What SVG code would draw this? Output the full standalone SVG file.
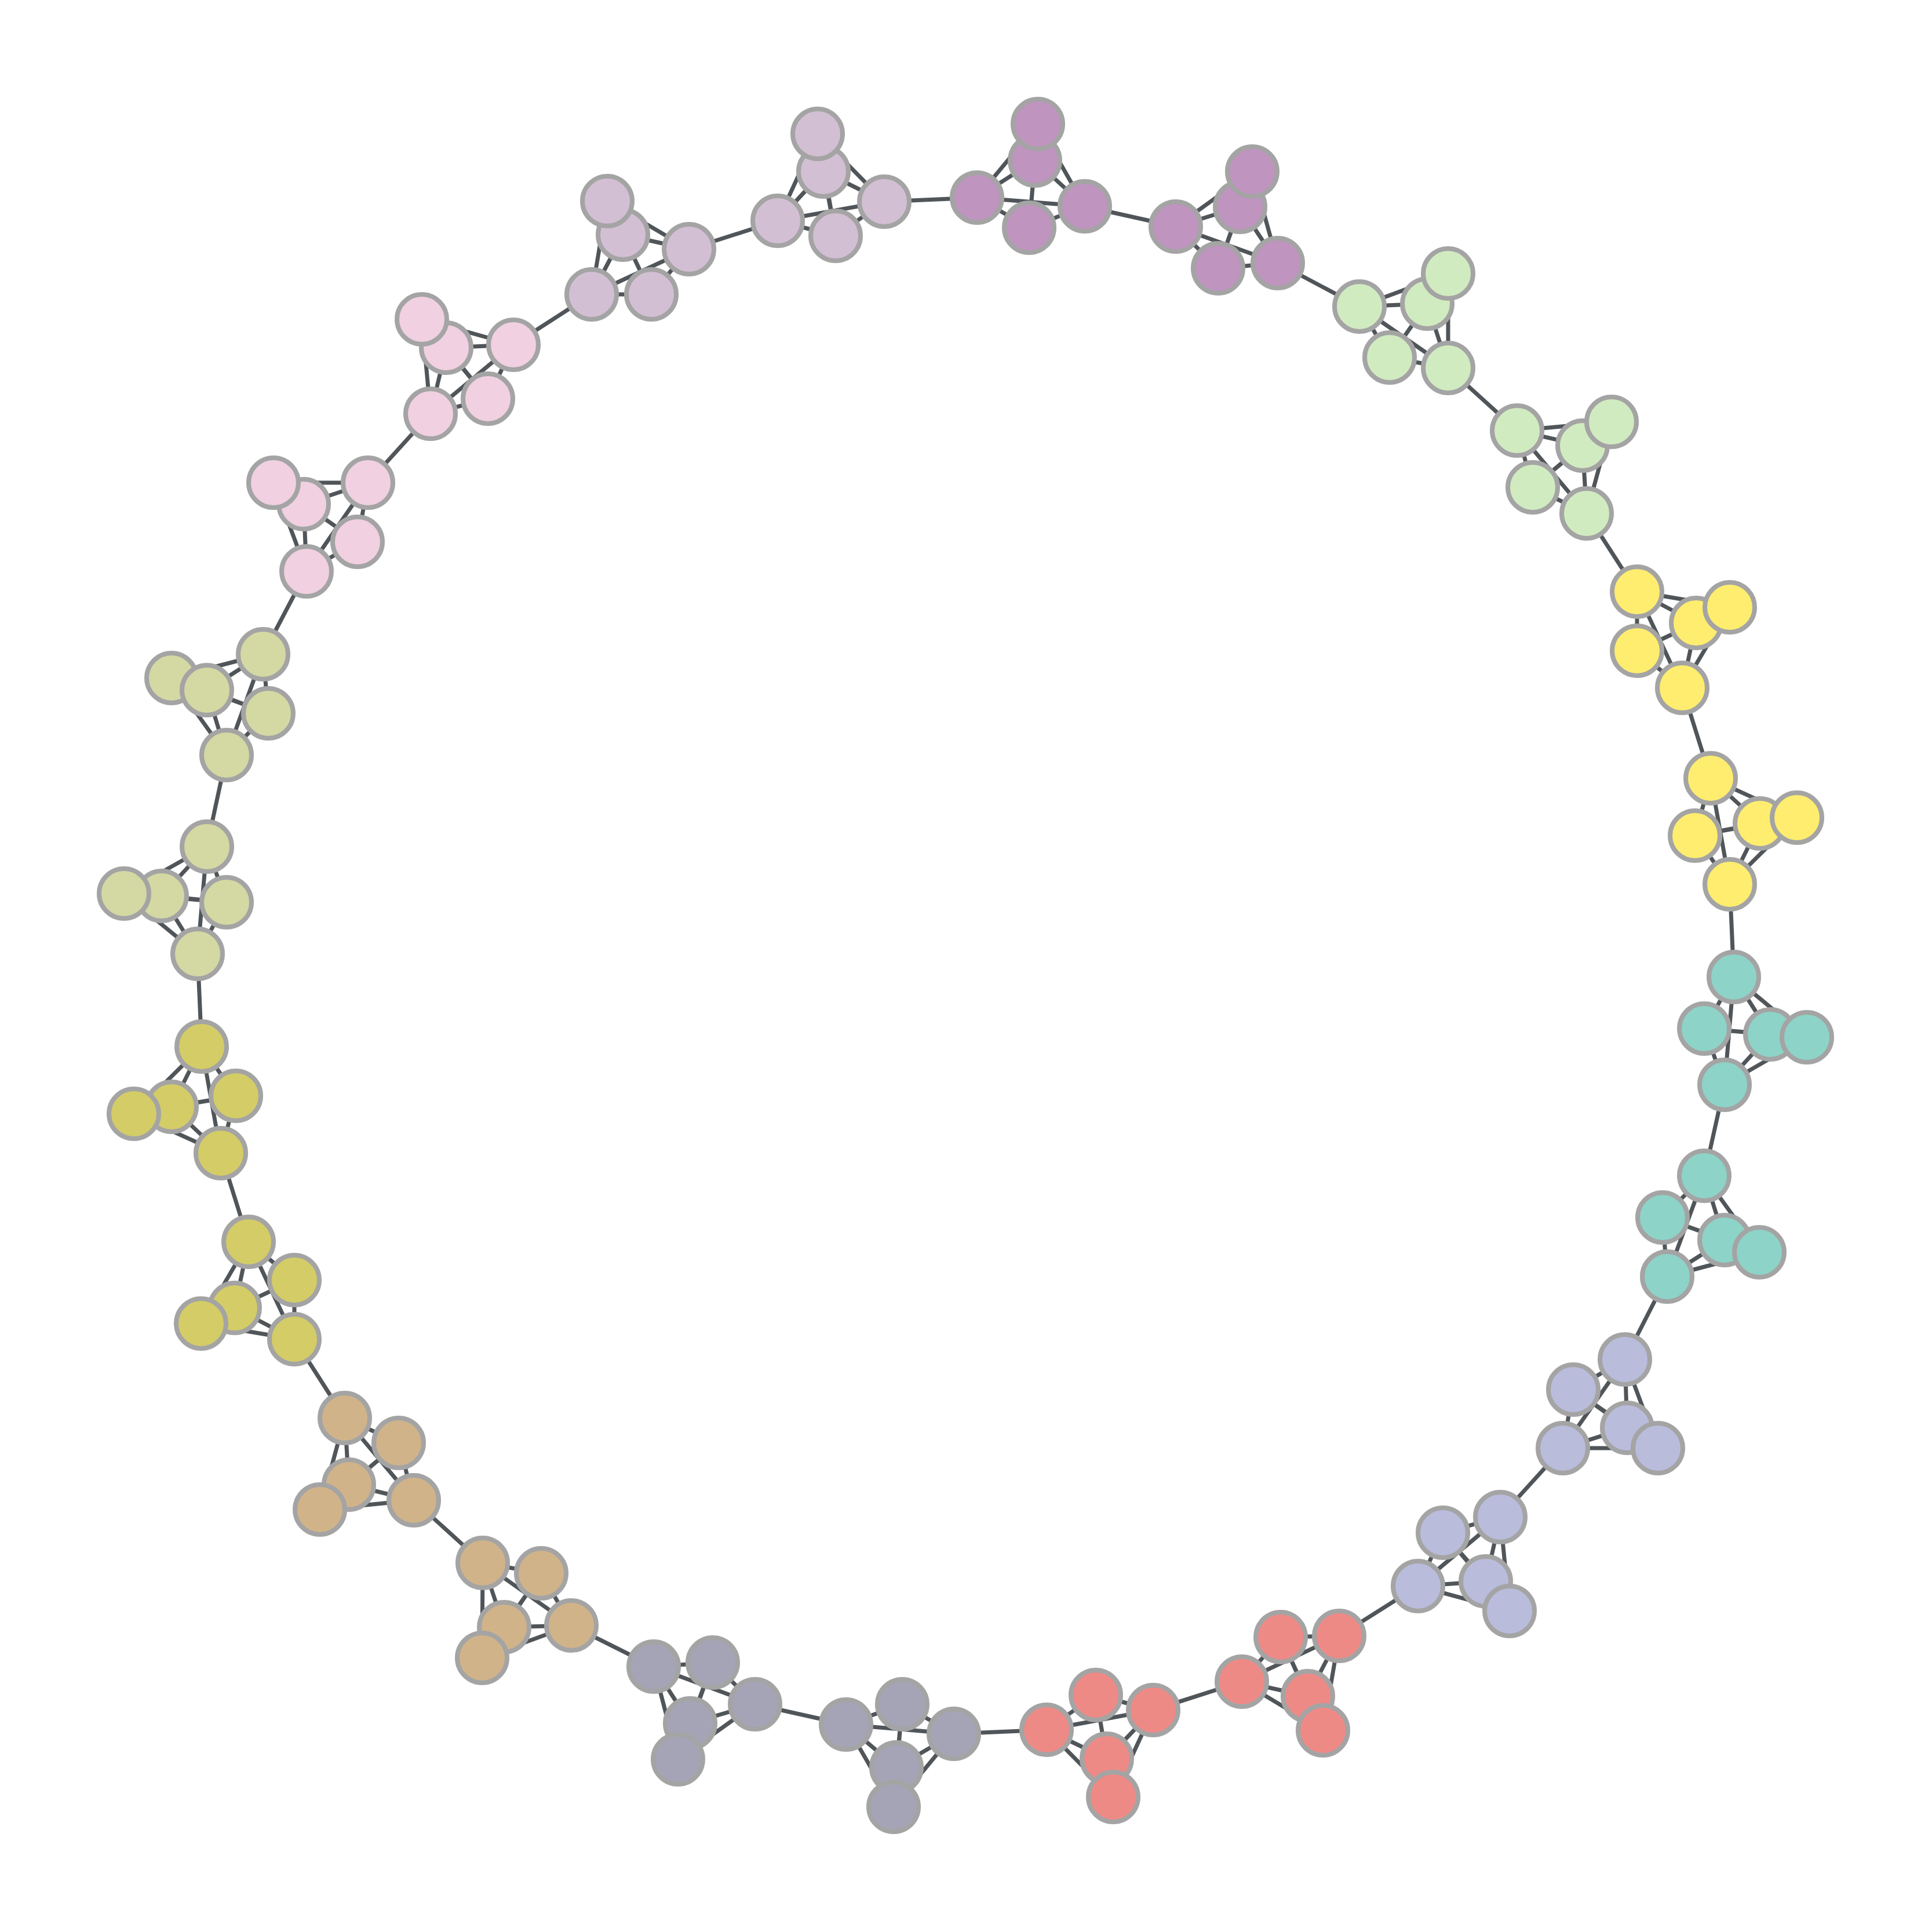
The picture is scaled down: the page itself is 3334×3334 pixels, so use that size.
<svg xmlns="http://www.w3.org/2000/svg" width="3334" height="3334" viewBox="0 0 3334 3334">
<style>
.e{stroke:#505559;stroke-width:7;fill:none;stroke-linecap:butt}
circle{stroke:#a4a4a4;stroke-width:8}
.pu{fill:#bf94bf}.li{fill:#d3bfd3}.pk{fill:#f0d0e1}.lo{fill:#d4d8a3}.oy{fill:#d4cc66}.tn{fill:#d1b38a}.gp{fill:#a5a4b7}.sa{fill:#ee8a86}.lv{fill:#b9bcdb}.te{fill:#8dd3c7}.ye{fill:#ffed6f}.lg{fill:#d1ebc1}
</style>
<rect width="3334" height="3334" fill="#ffffff"/>
<g id="connectors">
<path class="e" d="M1791 214L1786 277M1791 214L1686 341M1791 214L1776 393M1791 214L1872 356M1786 277L1686 341M1786 277L1776 393M1786 277L1872 356M1686 341L1776 393M1686 341L1872 356M1776 393L1872 356"/>
<path class="e" d="M2029 391L2140 357M2029 391L2161 296M2029 391L2102 463M2029 391L2205 454M2140 357L2161 296M2140 357L2102 463M2140 357L2205 454M2161 296L2102 463M2161 296L2205 454M2102 463L2205 454"/>
<path class="e" d="M2346 529L2463 524M2346 529L2499 472M2346 529L2398 617M2346 529L2499 635M2463 524L2499 472M2463 524L2398 617M2463 524L2499 635M2499 472L2398 617M2499 472L2499 635M2398 617L2499 635"/>
<path class="e" d="M2618 743L2731 769M2618 743L2781 728M2618 743L2645 841M2618 743L2738 886M2731 769L2781 728M2731 769L2645 841M2731 769L2738 886M2781 728L2645 841M2781 728L2738 886M2645 841L2738 886"/>
<path class="e" d="M2825 1021L2927 1075M2825 1021L2985 1048M2825 1021L2825 1123M2825 1021L2903 1187M2927 1075L2985 1048M2927 1075L2825 1123M2927 1075L2903 1187M2985 1048L2825 1123M2985 1048L2903 1187M2825 1123L2903 1187"/>
<path class="e" d="M2952 1343L2925 1442M2952 1343L3037 1421M2952 1343L3101 1411M2952 1343L2985 1526M2925 1442L3037 1421M2925 1442L3101 1411M2925 1442L2985 1526M3037 1421L3101 1411M3037 1421L2985 1526M3101 1411L2985 1526"/>
<path class="e" d="M2992 1686L2941 1775M2992 1686L3055 1785M2992 1686L3118 1790M2992 1686L2976 1872M2941 1775L3055 1785M2941 1775L3118 1790M2941 1775L2976 1872M3055 1785L3118 1790M3055 1785L2976 1872M3118 1790L2976 1872"/>
<path class="e" d="M2941 2029L2869 2101M2941 2029L2976 2140M2941 2029L3036 2161M2941 2029L2877 2203M2869 2101L2976 2140M2869 2101L3036 2161M2869 2101L2877 2203M2976 2140L3036 2161M2976 2140L2877 2203M3036 2161L2877 2203"/>
<path class="e" d="M2804 2346L2715 2398M2804 2346L2808 2464M2804 2346L2861 2499M2804 2346L2697 2499M2715 2398L2808 2464M2715 2398L2861 2499M2715 2398L2697 2499M2808 2464L2861 2499M2808 2464L2697 2499M2861 2499L2697 2499"/>
<path class="e" d="M2589 2618L2490 2645M2589 2618L2564 2729M2589 2618L2605 2780M2589 2618L2447 2737M2490 2645L2564 2729M2490 2645L2605 2780M2490 2645L2447 2737M2564 2729L2605 2780M2564 2729L2447 2737M2605 2780L2447 2737"/>
<path class="e" d="M2311 2823L2210 2825M2311 2823L2257 2927M2311 2823L2283 2986M2311 2823L2143 2902M2210 2825L2257 2927M2210 2825L2283 2986M2210 2825L2143 2902M2257 2927L2283 2986M2257 2927L2143 2902M2283 2986L2143 2902"/>
<path class="e" d="M1990 2951L1891 2925M1990 2951L1910 3035M1990 2951L1921 3101M1990 2951L1806 2985M1891 2925L1910 3035M1891 2925L1921 3101M1891 2925L1806 2985M1910 3035L1921 3101M1910 3035L1806 2985M1921 3101L1806 2985"/>
<path class="e" d="M1646 2992L1557 2941M1646 2992L1547 3050M1646 2992L1542 3118M1646 2992L1460 2976M1557 2941L1547 3050M1557 2941L1542 3118M1557 2941L1460 2976M1547 3050L1542 3118M1547 3050L1460 2976M1542 3118L1460 2976"/>
<path class="e" d="M1303 2941L1230 2869M1303 2941L1191 2974M1303 2941L1170 3036M1303 2941L1128 2876M1230 2869L1191 2974M1230 2869L1170 3036M1230 2869L1128 2876M1191 2974L1170 3036M1191 2974L1128 2876M1170 3036L1128 2876"/>
<path class="e" d="M986 2805L934 2715M986 2805L870 2808M986 2805L832 2861M986 2805L833 2697M934 2715L870 2808M934 2715L832 2861M934 2715L833 2697M870 2808L832 2861M870 2808L833 2697M832 2861L833 2697"/>
<path class="e" d="M714 2589L688 2490M714 2589L602 2562M714 2589L552 2605M714 2589L595 2447M688 2490L602 2562M688 2490L552 2605M688 2490L595 2447M602 2562L552 2605M602 2562L595 2447M552 2605L595 2447"/>
<path class="e" d="M508 2311L508 2209M508 2311L405 2257M508 2311L347 2284M508 2311L429 2143M508 2209L405 2257M508 2209L347 2284M508 2209L429 2143M405 2257L347 2284M405 2257L429 2143M347 2284L429 2143"/>
<path class="e" d="M381 1990L407 1891M381 1990L296 1910M381 1990L231 1922M381 1990L348 1806M407 1891L296 1910M407 1891L231 1922M407 1891L348 1806M296 1910L231 1922M296 1910L348 1806M231 1922L348 1806"/>
<path class="e" d="M341 1646L391 1557M341 1646L279 1546M341 1646L214 1542M341 1646L357 1461M391 1557L279 1546M391 1557L214 1542M391 1557L357 1461M279 1546L214 1542M279 1546L357 1461M214 1542L357 1461"/>
<path class="e" d="M391 1303L463 1231M391 1303L357 1191M391 1303L296 1170M391 1303L454 1129M463 1231L357 1191M463 1231L296 1170M463 1231L454 1129M357 1191L296 1170M357 1191L454 1129M296 1170L454 1129"/>
<path class="e" d="M529 986L617 935M529 986L524 870M529 986L472 833M529 986L635 833M617 935L524 870M617 935L472 833M617 935L635 833M524 870L472 833M524 870L635 833M472 833L635 833"/>
<path class="e" d="M743 714L842 688M743 714L770 600M743 714L728 551M743 714L886 595M842 688L770 600M842 688L728 551M842 688L886 595M770 600L728 551M770 600L886 595M728 551L886 595"/>
<path class="e" d="M1021 508L1124 508M1021 508L1075 405M1021 508L1048 347M1021 508L1189 430M1124 508L1075 405M1124 508L1048 347M1124 508L1189 430M1075 405L1048 347M1075 405L1189 430M1048 347L1189 430"/>
<path class="e" d="M1342 381L1442 407M1342 381L1421 296M1342 381L1411 231M1342 381L1526 348M1442 407L1421 296M1442 407L1411 231M1442 407L1526 348M1421 296L1411 231M1421 296L1526 348M1411 231L1526 348"/>
<path class="e" d="M1526 348L1686 341M1872 356L2029 391M2205 454L2346 529M2499 635L2618 743M2738 886L2825 1021M2903 1187L2952 1343M2985 1526L2992 1686M2976 1872L2941 2029M2877 2203L2804 2346M2697 2499L2589 2618M2447 2737L2311 2823M2143 2902L1990 2951M1806 2985L1646 2992M1460 2976L1303 2941M1128 2876L986 2805M833 2697L714 2589M595 2447L508 2311M429 2143L381 1990M348 1806L341 1646M357 1461L391 1303M454 1129L529 986M635 833L743 714M886 595L1021 508M1189 430L1342 381"/>
</g>
<g id="nodes">
<g id="c1" class="pu"><g id="n1b"><circle cx="1786" cy="277" r="43"/></g><g id="n1c"><circle cx="1686" cy="341" r="43"/></g><g id="n1d"><circle cx="1776" cy="393" r="43"/></g><g id="n1e"><circle cx="1872" cy="356" r="43"/></g><g id="n1a"><circle cx="1791" cy="214" r="43"/></g></g>
<g id="c2" class="pu"><g id="n2a"><circle cx="2029" cy="391" r="43"/></g><g id="n2b"><circle cx="2140" cy="357" r="43"/></g><g id="n2d"><circle cx="2102" cy="463" r="43"/></g><g id="n2e"><circle cx="2205" cy="454" r="43"/></g><g id="n2c"><circle cx="2161" cy="296" r="43"/></g></g>
<g id="c3" class="lg"><g id="n3a"><circle cx="2346" cy="529" r="43"/></g><g id="n3b"><circle cx="2463" cy="524" r="43"/></g><g id="n3d"><circle cx="2398" cy="617" r="43"/></g><g id="n3e"><circle cx="2499" cy="635" r="43"/></g><g id="n3c"><circle cx="2499" cy="472" r="43"/></g></g>
<g id="c4" class="lg"><g id="n4a"><circle cx="2618" cy="743" r="43"/></g><g id="n4b"><circle cx="2731" cy="769" r="43"/></g><g id="n4d"><circle cx="2645" cy="841" r="43"/></g><g id="n4e"><circle cx="2738" cy="886" r="43"/></g><g id="n4c"><circle cx="2781" cy="728" r="43"/></g></g>
<g id="c5" class="ye"><g id="n5a"><circle cx="2825" cy="1021" r="43"/></g><g id="n5b"><circle cx="2927" cy="1075" r="43"/></g><g id="n5d"><circle cx="2825" cy="1123" r="43"/></g><g id="n5e"><circle cx="2903" cy="1187" r="43"/></g><g id="n5c"><circle cx="2985" cy="1048" r="43"/></g></g>
<g id="c6" class="ye"><g id="n6a"><circle cx="2952" cy="1343" r="43"/></g><g id="n6b"><circle cx="2925" cy="1442" r="43"/></g><g id="n6c"><circle cx="3037" cy="1421" r="43"/></g><g id="n6e"><circle cx="2985" cy="1526" r="43"/></g><g id="n6d"><circle cx="3101" cy="1411" r="43"/></g></g>
<g id="c7" class="te"><g id="n7a"><circle cx="2992" cy="1686" r="43"/></g><g id="n7b"><circle cx="2941" cy="1775" r="43"/></g><g id="n7c"><circle cx="3055" cy="1785" r="43"/></g><g id="n7e"><circle cx="2976" cy="1872" r="43"/></g><g id="n7d"><circle cx="3118" cy="1790" r="43"/></g></g>
<g id="c8" class="te"><g id="n8a"><circle cx="2941" cy="2029" r="43"/></g><g id="n8b"><circle cx="2869" cy="2101" r="43"/></g><g id="n8c"><circle cx="2976" cy="2140" r="43"/></g><g id="n8e"><circle cx="2877" cy="2203" r="43"/></g><g id="n8d"><circle cx="3036" cy="2161" r="43"/></g></g>
<g id="c9" class="lv"><g id="n9a"><circle cx="2804" cy="2346" r="43"/></g><g id="n9b"><circle cx="2715" cy="2398" r="43"/></g><g id="n9c"><circle cx="2808" cy="2464" r="43"/></g><g id="n9e"><circle cx="2697" cy="2499" r="43"/></g><g id="n9d"><circle cx="2861" cy="2499" r="43"/></g></g>
<g id="c10" class="lv"><g id="n10a"><circle cx="2589" cy="2618" r="43"/></g><g id="n10b"><circle cx="2490" cy="2645" r="43"/></g><g id="n10c"><circle cx="2564" cy="2729" r="43"/></g><g id="n10e"><circle cx="2447" cy="2737" r="43"/></g><g id="n10d"><circle cx="2605" cy="2780" r="43"/></g></g>
<g id="c11" class="sa"><g id="n11a"><circle cx="2311" cy="2823" r="43"/></g><g id="n11b"><circle cx="2210" cy="2825" r="43"/></g><g id="n11c"><circle cx="2257" cy="2927" r="43"/></g><g id="n11e"><circle cx="2143" cy="2902" r="43"/></g><g id="n11d"><circle cx="2283" cy="2986" r="43"/></g></g>
<g id="c12" class="sa"><g id="n12a"><circle cx="1990" cy="2951" r="43"/></g><g id="n12b"><circle cx="1891" cy="2925" r="43"/></g><g id="n12c"><circle cx="1910" cy="3035" r="43"/></g><g id="n12e"><circle cx="1806" cy="2985" r="43"/></g><g id="n12d"><circle cx="1921" cy="3101" r="43"/></g></g>
<g id="c13" class="gp"><g id="n13a"><circle cx="1646" cy="2992" r="43"/></g><g id="n13b"><circle cx="1557" cy="2941" r="43"/></g><g id="n13c"><circle cx="1547" cy="3050" r="43"/></g><g id="n13e"><circle cx="1460" cy="2976" r="43"/></g><g id="n13d"><circle cx="1542" cy="3118" r="43"/></g></g>
<g id="c14" class="gp"><g id="n14a"><circle cx="1303" cy="2941" r="43"/></g><g id="n14b"><circle cx="1230" cy="2869" r="43"/></g><g id="n14c"><circle cx="1191" cy="2974" r="43"/></g><g id="n14e"><circle cx="1128" cy="2876" r="43"/></g><g id="n14d"><circle cx="1170" cy="3036" r="43"/></g></g>
<g id="c15" class="tn"><g id="n15a"><circle cx="986" cy="2805" r="43"/></g><g id="n15b"><circle cx="934" cy="2715" r="43"/></g><g id="n15c"><circle cx="870" cy="2808" r="43"/></g><g id="n15e"><circle cx="833" cy="2697" r="43"/></g><g id="n15d"><circle cx="832" cy="2861" r="43"/></g></g>
<g id="c16" class="tn"><g id="n16a"><circle cx="714" cy="2589" r="43"/></g><g id="n16b"><circle cx="688" cy="2490" r="43"/></g><g id="n16c"><circle cx="602" cy="2562" r="43"/></g><g id="n16e"><circle cx="595" cy="2447" r="43"/></g><g id="n16d"><circle cx="552" cy="2605" r="43"/></g></g>
<g id="c17" class="oy"><g id="n17a"><circle cx="508" cy="2311" r="43"/></g><g id="n17b"><circle cx="508" cy="2209" r="43"/></g><g id="n17c"><circle cx="405" cy="2257" r="43"/></g><g id="n17e"><circle cx="429" cy="2143" r="43"/></g><g id="n17d"><circle cx="347" cy="2284" r="43"/></g></g>
<g id="c18" class="oy"><g id="n18a"><circle cx="381" cy="1990" r="43"/></g><g id="n18b"><circle cx="407" cy="1891" r="43"/></g><g id="n18c"><circle cx="296" cy="1910" r="43"/></g><g id="n18e"><circle cx="348" cy="1806" r="43"/></g><g id="n18d"><circle cx="231" cy="1922" r="43"/></g></g>
<g id="c19" class="lo"><g id="n19a"><circle cx="341" cy="1646" r="43"/></g><g id="n19b"><circle cx="391" cy="1557" r="43"/></g><g id="n19c"><circle cx="279" cy="1546" r="43"/></g><g id="n19e"><circle cx="357" cy="1461" r="43"/></g><g id="n19d"><circle cx="214" cy="1542" r="43"/></g></g>
<g id="c20" class="lo"><g id="n20a"><circle cx="391" cy="1303" r="43"/></g><g id="n20b"><circle cx="463" cy="1231" r="43"/></g><g id="n20d"><circle cx="296" cy="1170" r="43"/></g><g id="n20e"><circle cx="454" cy="1129" r="43"/></g><g id="n20c"><circle cx="357" cy="1191" r="43"/></g></g>
<g id="c21" class="pk"><g id="n21a"><circle cx="529" cy="986" r="43"/></g><g id="n21b"><circle cx="617" cy="935" r="43"/></g><g id="n21c"><circle cx="524" cy="870" r="43"/></g><g id="n21e"><circle cx="635" cy="833" r="43"/></g><g id="n21d"><circle cx="472" cy="833" r="43"/></g></g>
<g id="c22" class="pk"><g id="n22a"><circle cx="743" cy="714" r="43"/></g><g id="n22b"><circle cx="842" cy="688" r="43"/></g><g id="n22c"><circle cx="770" cy="600" r="43"/></g><g id="n22e"><circle cx="886" cy="595" r="43"/></g><g id="n22d"><circle cx="728" cy="551" r="43"/></g></g>
<g id="c23" class="li"><g id="n23a"><circle cx="1021" cy="508" r="43"/></g><g id="n23b"><circle cx="1124" cy="508" r="43"/></g><g id="n23c"><circle cx="1075" cy="405" r="43"/></g><g id="n23e"><circle cx="1189" cy="430" r="43"/></g><g id="n23d"><circle cx="1048" cy="347" r="43"/></g></g>
<g id="c24" class="li"><g id="n24a"><circle cx="1342" cy="381" r="43"/></g><g id="n24b"><circle cx="1442" cy="407" r="43"/></g><g id="n24c"><circle cx="1421" cy="296" r="43"/></g><g id="n24e"><circle cx="1526" cy="348" r="43"/></g><g id="n24d"><circle cx="1411" cy="231" r="43"/></g></g>
</g>
</svg>
